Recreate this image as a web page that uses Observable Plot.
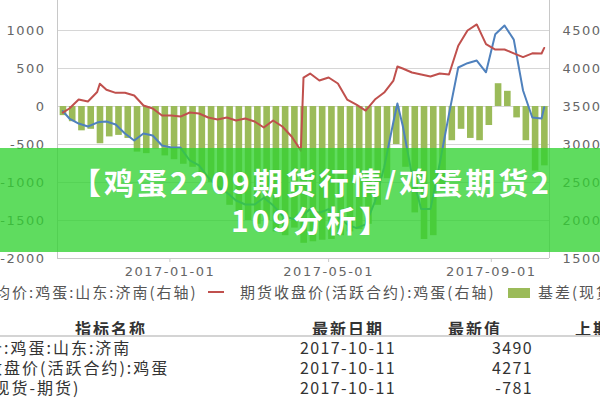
<!DOCTYPE html>
<html>
<head>
<meta charset="utf-8">
<script src="https://cdn.jsdelivr.net/npm/d3@7"></script>
<script src="https://cdn.jsdelivr.net/npm/@observablehq/plot@0.6"></script>
<style>
  html, body { margin: 0; padding: 0; background: #fff; }
  #page { position: relative; width: 600px; height: 400px; overflow: hidden; background: #fff; }
  #chart { position: absolute; left: 0; top: 0; }
  .abs { position: absolute; white-space: nowrap; }
  .legend { font-family: "Noto Sans CJK SC", sans-serif; font-size: 15px; line-height: 20px; color: #555; letter-spacing: 2px; top: 282px; }
  .th { font-family: "Noto Sans CJK SC", sans-serif; font-size: 16px; font-weight: 700; color: #333; letter-spacing: 2px; line-height: 20px; }
  .td { font-family: "Noto Sans CJK SC", sans-serif; font-size: 16px; color: #333; letter-spacing: 2px; line-height: 20px; }
  .num { letter-spacing: 1.4px; }
  #banner { position: absolute; left: 0; top: 148px; width: 600px; height: 104px; background: rgba(50,210,50,0.78); }
  #bannerText { position: absolute; left: 0; top: 162px; width: 600px; box-sizing: border-box; padding-left: 23px;
    text-align: center; font-family: "Noto Sans CJK SC", sans-serif; font-weight: 700; font-size: 30px; line-height: 38px;
    letter-spacing: 3px; color: #fff; text-shadow: 0 0 1px rgba(0,0,0,0.12); }
</style>
</head>
<body>
<div id="page">
  <div id="chart"></div>
  <div id="banner"></div>
  <div id="bannerText">【鸡蛋2209期货行情/鸡蛋期货2<br>109分析】</div>

  <div class="abs legend" style="left:-22px">平均价:鸡蛋:山东:济南(右轴)</div>
  <div class="abs" style="left:208px; top:291px; width:16px; height:2px; background:#c0504d"></div>
  <div class="abs legend" style="left:240px">期货收盘价(活跃合约):鸡蛋(右轴)</div>
  <div class="abs" style="left:508px; top:288px; width:22px; height:10px; background:#9bbb59"></div>
  <div class="abs legend" style="left:538px">基差(现货-期货)</div>

  <div id="table"></div>
</div>
<script>
// ---- data ----
const lineDates = ["2016-10-12","2016-10-17","2016-10-24","2016-10-31","2016-11-07","2016-11-09","2016-11-14","2016-11-21","2016-11-28","2016-12-05","2016-12-12","2016-12-19","2016-12-26","2017-01-02","2017-01-09","2017-01-16","2017-01-23","2017-01-30","2017-02-06","2017-02-13","2017-02-20","2017-02-27","2017-03-06","2017-03-13","2017-03-20","2017-03-27","2017-04-03","2017-04-07","2017-04-10","2017-04-12","2017-04-17","2017-04-24","2017-05-01","2017-05-08","2017-05-15","2017-05-22","2017-05-29","2017-06-05","2017-06-12","2017-06-19","2017-06-22","2017-06-26","2017-07-03","2017-07-10","2017-07-17","2017-07-24","2017-07-31","2017-08-07","2017-08-14","2017-08-21","2017-08-28","2017-09-04","2017-09-11","2017-09-18","2017-09-25","2017-10-02","2017-10-09","2017-10-11"];
const spot = [3440,3342,3276,3237,3289,3295,3303,3263,3145,3053,3145,3118,2987,2960,2960,2790,2724,2566,2447,2368,2263,2211,2211,2300,2200,2066,2026,2010,2050,2080,2150,2100,2150,2050,1950,1900,1950,2250,2700,3300,3540,3250,2600,2150,2150,2750,3400,4013,4070,4105,3950,4450,4566,4380,3711,3355,3342,3490];
const futures = [3420,3474,3592,3566,3690,3800,3720,3680,3680,3645,3513,3474,3382,3382,3368,3421,3408,3355,3329,3355,3316,3342,3303,3224,3316,3237,3105,3000,2920,3880,3934,3842,3882,3803,3592,3526,3447,3592,3684,3842,4026,4000,3947,3921,3895,3934,3921,4300,4500,4580,4320,4250,4250,4200,4150,4200,4197,4271];

const barDates = ["2016-10-10","2016-10-17","2016-10-24","2016-10-31","2016-11-07","2016-11-14","2016-11-21","2016-11-28","2016-12-05","2016-12-12","2016-12-19","2016-12-26","2017-01-02","2017-01-09","2017-01-16","2017-01-23","2017-01-30","2017-02-06","2017-02-13","2017-02-20","2017-02-27","2017-03-06","2017-03-13","2017-03-20","2017-03-27","2017-04-03","2017-04-10","2017-04-17","2017-04-24","2017-05-01","2017-05-08","2017-05-15","2017-05-22","2017-05-29","2017-06-05","2017-06-12","2017-06-19","2017-06-26","2017-07-03","2017-07-10","2017-07-17","2017-07-24","2017-07-31","2017-08-07","2017-08-14","2017-08-21","2017-08-28","2017-09-04","2017-09-11","2017-09-18","2017-09-25","2017-10-02","2017-10-09"];
const basis = [-120,-200,-320,-300,-490,-400,-380,-420,-600,-620,-560,-650,-700,-760,-800,-900,-1000,-1150,-1300,-1400,-1500,-1550,-1500,-1650,-1700,-1600,-1800,-1780,-1760,-1750,-1700,-1650,-1620,-1550,-1300,-950,-500,-800,-1400,-1750,-1700,-1100,-450,-300,-420,-450,-250,300,200,-150,-450,-850,-781];

const leftTicks = [-2000,-1500,-1000,-500,0,500,1000];
const rightOffset = 3500; // right axis = left axis + 3500
const xTickDates = ["2017-01-01","2017-05-01","2017-09-01"];
const xDomainDates = ["2016-10-08","2017-10-15"];
const yDomain = [-2000, 1395];

const legendNames = ["平均价:鸡蛋:山东:济南","期货收盘价(活跃合约):鸡蛋","基差(现货-期货)"];
const tableHeaders = ["指标名称","最新日期","最新值","上期值"];
const latestDates = ["2017-10-11","2017-10-11","2017-10-11"];
const latestValues = ["3490","4271","-781"];

// ---- build ----
const lines = lineDates.map((d, i) => ({date: new Date(d), spot: spot[i], futures: futures[i]}));
const bars = barDates.map((d, i) => ({start: new Date(d), end: d3.utcDay.offset(new Date(d), 5), basis: basis[i]}));
const xDomain = xDomainDates.map(d => new Date(d));

const chart = Plot.plot({
  width: 600, height: 285,
  marginLeft: 57, marginRight: 51, marginTop: 0, marginBottom: 27,
  x: {type: "utc", domain: xDomain},
  y: {domain: yDomain},
  style: {fontFamily: "DejaVu Sans, sans-serif", fontSize: "13px", color: "#666", background: "#fff", letterSpacing: "1.5px", overflow: "visible"},
  marks: [
    Plot.gridY(leftTicks, {stroke: "#d6d6d6", strokeOpacity: 1}),
    Plot.rectY(bars, {x1: "start", x2: "end", y1: 0, y2: "basis", fill: "#9bbb59"}),
    Plot.lineY(lines, {x: "date", y: d => d.spot - rightOffset, stroke: "#4f81bd", strokeWidth: 2}),
    Plot.lineY(lines, {x: "date", y: d => d.futures - rightOffset, stroke: "#c0504d", strokeWidth: 2}),
    Plot.ruleX(xDomain, {stroke: "#c8c8c8"}),
    Plot.ruleY([yDomain[0]], {stroke: "#c8c8c8"}),
    Plot.axisY(leftTicks, {anchor: "left", label: null, tickSize: 0, tickPadding: 12, fill: "#666", tickFormat: d => String(d)}),
    Plot.axisY(leftTicks, {anchor: "right", label: null, tickSize: 0, tickPadding: 13, fill: "#666", tickFormat: d => String(d + rightOffset)}),
    Plot.axisX(xTickDates.map(d => new Date(d)), {anchor: "bottom", label: null, tickSize: 4, tickPadding: 4.5, stroke: "#c8c8c8", fill: "#666", tickFormat: d3.utcFormat("%Y-%m-%d")})
  ]
});
document.getElementById("chart").appendChild(chart);

const table = document.getElementById("table");
function addText(cls, text, style) {
  const el = document.createElement("div");
  el.className = "abs " + cls;
  el.textContent = text;
  el.setAttribute("style", style);
  table.appendChild(el);
}
const headerTop = 318;
addText("th", tableHeaders[0], `left:-50px; width:322px; text-align:center; top:${headerTop}px`);
addText("th", tableHeaders[1], `left:273px; width:150px; text-align:center; top:${headerTop}px`);
addText("th", tableHeaders[2], `left:400px; width:150px; text-align:center; top:${headerTop}px`);
addText("th", tableHeaders[3], `left:575px; top:${headerTop}px`);
const sep = document.createElement("div");
sep.className = "abs";
sep.setAttribute("style", "left:0; top:335px; width:600px; height:2px; background:#d4d4d4");
table.appendChild(sep);
legendNames.forEach((name, i) => {
  const top = 337 + i * 20;
  addText("td", name, `left:-50px; top:${top}px`);
  addText("td num", latestDates[i], `left:273px; width:150px; text-align:center; top:${top}px`);
  addText("td num", latestValues[i], `left:380px; width:153px; text-align:right; top:${top}px`);
});
</script>
</body>
</html>
